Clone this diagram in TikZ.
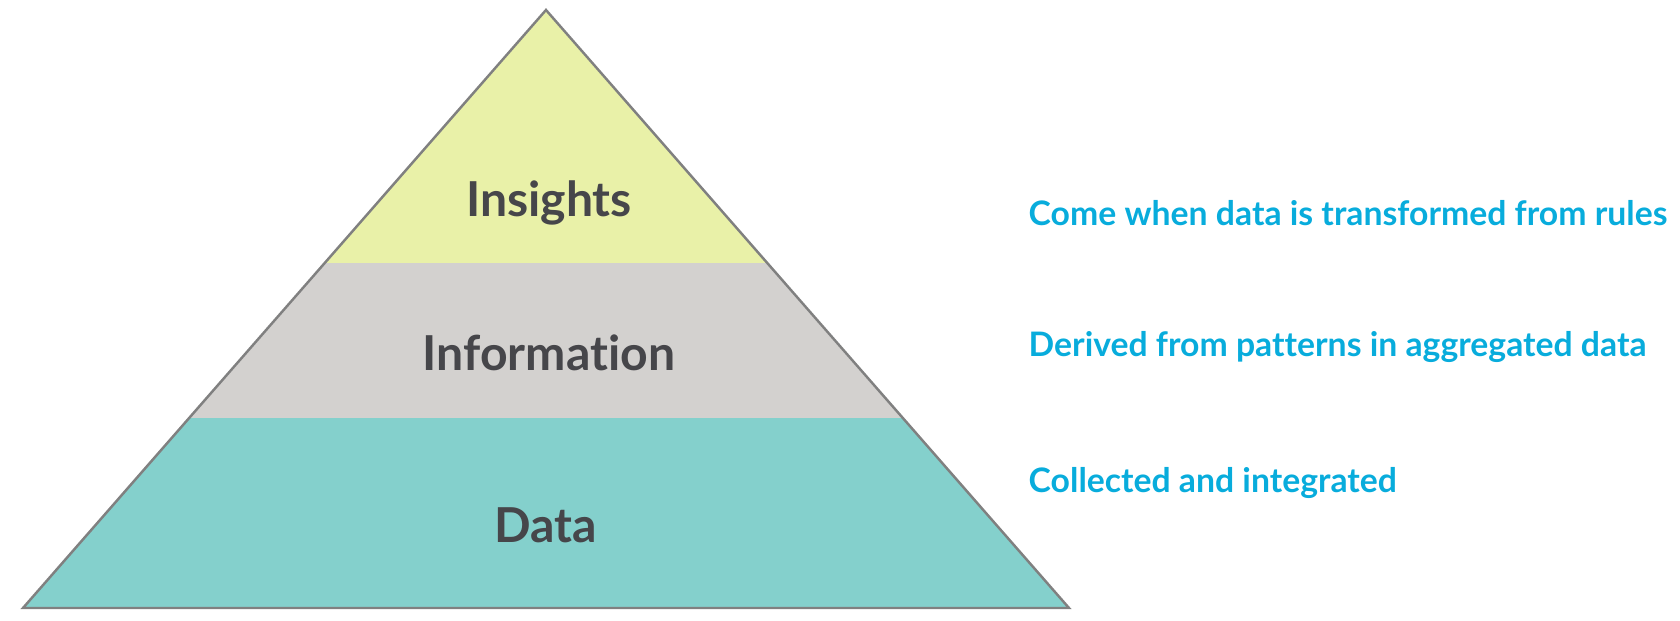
\documentclass[tikz,border=0pt]{standalone}
\usepackage{fontspec}
\setmainfont{Lato}[Ligatures=NoCommon]
\usepackage{xcolor}
\usetikzlibrary{positioning,calc}

\definecolor{insightfill}{RGB}{233,241,168}
\definecolor{infofill}{RGB}{211,209,207}
\definecolor{datafill}{RGB}{132,208,204}
\definecolor{edgegray}{RGB}{128,128,128}
\definecolor{labelgray}{RGB}{70,70,74}
\definecolor{noteblue}{RGB}{8,172,220}

\begin{document}
\begin{tikzpicture}[
    x=0.1mm, y=-0.1mm,
    tier/.style={font=\fontsize{13.7}{16}\selectfont\bfseries, text=labelgray, anchor=base, inner sep=0pt},
    note/.style={font=\fontsize{9.6}{12}\selectfont\bfseries, text=noteblue, anchor=base west, inner sep=0pt},
    outline/.style={draw=edgegray, line width=0.7pt, line join=miter}
]
\useasboundingbox (0,0) rectangle (1680,621);

% Pyramid corners
\coordinate (apex) at (546,10);
\coordinate (bl) at (23,608);
\coordinate (br) at (1069,608);

% Bands
\begin{scope}
\clip (apex) -- (bl) -- (br) -- cycle;
\fill[insightfill] (0,0) rectangle (1680,263);
\fill[infofill] (0,263) rectangle (1680,418);
\fill[datafill] (0,418) rectangle (1680,621);
\end{scope}
\draw[outline] (apex) -- (bl) -- (br) -- cycle;

% Tier labels
\node[tier] (insights) at (549,217) {Insights};
\node[tier] (info) at (549,371) {Information};
\node[tier] (data) at (546,543) {Data};

% Notes
\node[note] (n01) at (1028,226) {Come when data is transformed from rules};
\node[note] (n02) at (1028,357) {Derived from patterns in aggregated data};
\node[note] (n03) at (1028,493) {Collected and integrated};

\end{tikzpicture}
\end{document}
